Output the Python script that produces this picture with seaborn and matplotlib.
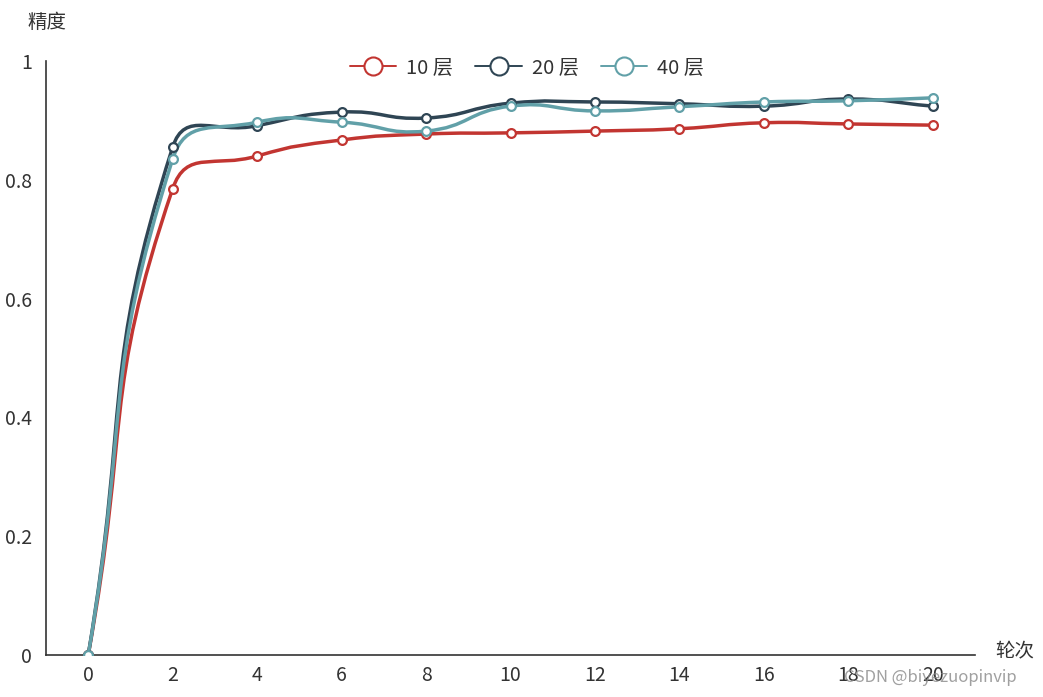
import numpy as np
import pandas as pd
import matplotlib
matplotlib.use("Agg")
import matplotlib.pyplot as plt
from matplotlib.path import Path
from matplotlib.patches import PathPatch
from matplotlib.lines import Line2D
import seaborn as sns

# data
rounds = [0, 2, 4, 6, 8, 10, 12, 14, 16, 18, 20]
acc_10 = [0.0, 0.785, 0.840, 0.867, 0.877, 0.879, 0.882, 0.886, 0.896, 0.894, 0.892]
acc_20 = [0.0, 0.855, 0.891, 0.914, 0.904, 0.929, 0.931, 0.928, 0.924, 0.936, 0.924]
acc_40 = [0.0, 0.835, 0.897, 0.897, 0.882, 0.924, 0.916, 0.923, 0.931, 0.933, 0.938]
series_names = ["10 层", "20 层", "40 层"]
series_colors = ["#c23531", "#2f4554", "#61a0a8"]

sns.set_style("white")
plt.rcParams['font.family'] = ['Noto Sans CJK SC', 'DejaVu Sans']

df = pd.DataFrame({
    "pos": list(range(len(rounds))) * 3,
    "acc": acc_10 + acc_20 + acc_40,
    "series": [s for s in series_names for _ in rounds],
})

fig = plt.figure(figsize=(10.43, 6.97), dpi=100)
ax = fig.add_axes([46 / 1043, 1 - 655 / 697, (975 - 46) / 1043, (655 - 61) / 697])
ax.set_xlim(-0.5, len(rounds) - 0.5)
ax.set_ylim(0, 1)


def smooth_path(xs, ys, smooth=0.5):
    # echarts-like bezier smoothing, control points computed in pixel space
    pts = ax.transData.transform(np.column_stack([xs, ys]))
    n = len(pts)
    cin, cout = [], []
    for i in range(n):
        cur = pts[i]
        prev = pts[i - 1] if i > 0 else cur
        nxt = pts[i + 1] if i < n - 1 else cur
        v = nxt - prev
        d0 = np.hypot(*(cur - prev))
        d1 = np.hypot(*(cur - nxt))
        tot = d0 + d1
        if tot > 0:
            d0, d1 = d0 / tot, d1 / tot
        cin.append(cur - v * smooth * d0)
        cout.append(cur + v * smooth * d1)
    verts = [pts[0]]
    codes = [Path.MOVETO]
    for i in range(n - 1):
        verts += [cout[i], cin[i + 1], pts[i + 1]]
        codes += [Path.CURVE4] * 3
    verts = ax.transData.inverted().transform(np.array(verts))
    return Path(verts, codes)


for name, color in zip(series_names, series_colors):
    sub = df[df["series"] == name]
    path = smooth_path(sub["pos"].values, sub["acc"].values)
    ax.add_patch(PathPatch(path, facecolor="none", edgecolor=color, lw=2.5, zorder=2))
    sns.scatterplot(data=sub, x="pos", y="acc", ax=ax, color="white", edgecolor=color,
                    linewidth=1.6, s=40, zorder=3, legend=False)

# axes styling
for side in ["top", "right"]:
    ax.spines[side].set_visible(False)
for side in ["left", "bottom"]:
    ax.spines[side].set_color("#333333")
    ax.spines[side].set_linewidth(1.2)

ax.set_xticks(range(len(rounds)))
ax.set_xticklabels([str(r) for r in rounds])
ax.set_xticks(np.arange(-0.5, len(rounds), 1.0), minor=True)
ax.tick_params(axis="x", which="major", length=0, pad=7, labelsize=14, labelcolor="#333333")
ax.tick_params(axis="x", which="minor", length=5, width=1.2, color="#333333", direction="out")
ax.set_yticks([0, 0.2, 0.4, 0.6, 0.8, 1.0])
ax.set_yticklabels(["0", "0.2", "0.4", "0.6", "0.8", "1"])
ax.tick_params(axis="y", length=5, width=1.2, color="#333333", pad=5, labelsize=14,
               labelcolor="#333333", direction="out")
ax.set_xlabel("")
ax.set_ylabel("")
ax.grid(False)

fig.text(47 / 1043, 1 - 22 / 697, "精度", ha="center", va="center", fontsize=14, color="#333333")
fig.text(1015 / 1043, 1 - 651 / 697, "轮次", ha="center", va="center", fontsize=14, color="#333333")

handles = [Line2D([0], [0], color=c, lw=1.4, marker="o", markersize=13,
                  markerfacecolor="white", markeredgecolor=c, markeredgewidth=1.5)
           for c in series_colors]
fig.legend(handles, series_names, loc="center", bbox_to_anchor=(527 / 1043, 1 - 68 / 697),
           ncol=3, frameon=False, fontsize=14.5, handlelength=2.3, handletextpad=0.5,
           columnspacing=1.1, labelcolor="#333333")

fig.text(930 / 1043, 1 - 678 / 697, "CSDN @biyezuopinvip", ha="center", va="center",
         fontsize=12, color="#888888", alpha=0.8)

fig.savefig("out.png", dpi=100)
